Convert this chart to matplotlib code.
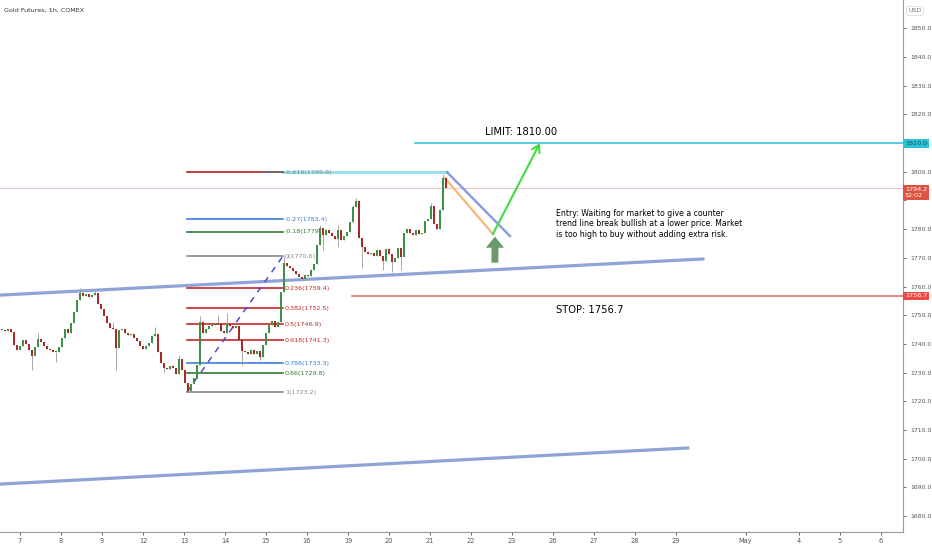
import matplotlib.pyplot as plt
from matplotlib import transforms

# hourly-ish candles, Gold Futures 1h (closes)
closes = [1744.8, 1744.5, 1745.1, 1744.1, 1739.6, 1737.8, 1739.2, 1741.3, 1739.9, 1737.8,
          1735.7, 1738.9, 1741.7, 1740.6, 1739.2, 1738.2, 1737.8, 1737.1, 1737.1, 1738.9,
          1742.0, 1745.1, 1743.8, 1747.2, 1751.1, 1755.3, 1757.7, 1756.7, 1757.4, 1756.3,
          1757.0, 1757.7, 1753.9, 1752.1, 1749.7, 1747.2, 1745.5, 1745.1, 1738.5, 1744.8,
          1745.1, 1743.8, 1743.1, 1743.4, 1742.0, 1741.0, 1739.2, 1738.2, 1739.2, 1740.3,
          1742.7, 1743.4, 1737.1, 1733.3, 1731.6, 1731.2, 1732.3, 1731.6, 1729.5, 1734.7,
          1730.9, 1726.3, 1723.5, 1726.0, 1728.1, 1732.6, 1747.6, 1743.8, 1745.1, 1746.2,
          1746.5, 1747.2, 1746.9, 1744.5, 1743.8, 1746.9, 1746.2, 1745.5, 1746.2, 1741.3,
          1737.5, 1737.1, 1736.4, 1737.8, 1736.4, 1737.5, 1735.4, 1739.6, 1743.8, 1746.5,
          1747.9, 1745.9, 1747.6, 1758.1, 1768.2, 1767.1, 1766.4, 1765.4, 1764.3, 1763.3,
          1762.6, 1764.0, 1763.6, 1765.7, 1767.8, 1774.4, 1780.4, 1777.9, 1779.7, 1778.6,
          1777.6, 1776.5, 1779.7, 1776.2, 1777.6, 1779.0, 1782.5, 1787.7, 1789.8, 1776.9,
          1773.8, 1772.0, 1771.3, 1771.7, 1770.6, 1772.7, 1770.6, 1768.9, 1773.1, 1771.3,
          1768.5, 1769.9, 1773.4, 1770.3, 1778.6, 1780.0, 1778.6, 1777.9, 1779.7, 1778.3,
          1778.6, 1782.8, 1783.5, 1788.0, 1781.8, 1780.0, 1786.7, 1797.8, 1794.2]
first_open = 1744.8
high_wicks = {12: 1743.8, 26: 1759.5, 31: 1758.8, 37: 1747.6, 51: 1745.9, 59: 1736.1,
              66: 1749.7, 72: 1750.0, 75: 1750.7, 94: 1770.6, 106: 1781.5, 112: 1781.4,
              117: 1788.5, 118: 1790.8, 143: 1789.1, 147: 1799.2}
low_wicks = {10: 1730.9, 18: 1733.7, 38: 1730.9, 54: 1729.8, 62: 1723.2, 80: 1732.6,
             86: 1734.3, 93: 1746.9, 107: 1772.7, 112: 1773.8, 120: 1766.4, 127: 1765.7,
             130: 1765.0, 133: 1765.7}

day_ticks = [0, 1, 2, 3, 4, 5, 6, 7, 8, 9, 10, 11, 12, 13, 14, 15, 16, 17.7, 19, 20, 21]
day_labels = ['7', '8', '9', '12', '13', '14', '15', '16', '19', '20', '21', '22', '23',
              '26', '27', '28', '29', 'May', '4', '5', '6']
price_ticks = list(range(1680, 1851, 10))
hidden_ticks = [1790, 1810]  # covered by the price boxes

fib_ratios = [-0.618, -0.27, -0.18, 0, 0.236, 0.382, 0.5, 0.618, 0.786, 0.86, 1]
fib_prices = [1799.9, 1783.4, 1779.1, 1770.6, 1759.4, 1752.5, 1746.9, 1741.3, 1733.3, 1729.8, 1723.2]
fib_colors = ['#b71c1c', '#3a7fd5', '#2e7d32', '#8a8a8a', '#c62828', '#c62828', '#c62828',
              '#c62828', '#3a7fd5', '#2e7d32', '#8a8a8a']
fib_label_colors = ['#8a8a8a', '#3a7fd5', '#2e7d32', '#8a8a8a', '#c62828', '#c62828', '#c62828',
                    '#c62828', '#3a7fd5', '#2e7d32', '#8a8a8a']

limit_price = 1810.0
stop_price = 1756.7
last_price = 1794.2

fig = plt.figure(figsize=(9.32, 5.5), dpi=100)
ax = fig.add_axes([0, 18 / 550, 903 / 932, 532 / 550])
ax.set_xlim(-0.488, 21.54)
ax.set_ylim(1674.4, 1859.9)

# candles
x0, step = -18 / 41, 3 / 41
opens = [first_open] + closes[:-1]
for i, (o, c) in enumerate(zip(opens, closes)):
    x = x0 + i * step
    hi = high_wicks.get(i, max(o, c))
    lo = low_wicks.get(i, min(o, c))
    col = '#3f8f45' if c >= o else '#a82a26'
    ax.vlines(x, lo, hi, color='#9a9a9a', lw=0.6, zorder=4)
    h = max(abs(c - o), 0.35)
    ax.bar(x, h, bottom=min(o, c), width=0.048, color=col, lw=0, zorder=5)

# current price line
ax.axhline(last_price, color='#f3b5b5', lw=0.6, zorder=1)

# wedge lines
ax.plot([-0.488, 16.66], [1757.0, 1769.6], color='#8ea4d6', lw=2.3, zorder=3)
ax.plot([-0.488, 16.29], [1691.1, 1703.7], color='#8ea4d6', lw=2.3, zorder=3)

# fib retracement
fx0, fx1 = 167 / 41, 263 / 41
for r, p, col, lcol in zip(fib_ratios, fib_prices, fib_colors, fib_label_colors):
    ax.plot([fx0, fx1], [p, p], color=col, lw=1.2, zorder=3)
    ax.text(265 / 41, p, f"{r:g}({p})", color=lcol, fontsize=4.6, va='center', ha='left',
            zorder=3)
ax.plot([243 / 41, fx1], [fib_prices[0], fib_prices[0]], color='#6a6a6a', lw=1.2, zorder=3)
ax.plot([fx0, fx1], [fib_prices[-1], fib_prices[3]], color='#4a4adf', lw=1.1,
        ls=(0, (4, 4)), zorder=3)

# cyan top line and projection
ax.plot([fx1, 427 / 41], [1799.9, 1799.9], color='#7fdbe6', lw=2, alpha=0.85, zorder=2)
ax.plot([427 / 41, 490 / 41], [1799.9, 1777.6], color='#8c9ee0', lw=1.8, zorder=3)
ax.plot([425 / 41, 473 / 41], [1797.8, 1778.3], color='#f6b872', lw=1.6, zorder=3)
ax.annotate('', xy=(520 / 41, 1810.0), xytext=(473 / 41, 1778.3),
            arrowprops=dict(arrowstyle='->,head_length=0.5,head_width=0.3',
                            color='#48dc48', lw=1.6, shrinkA=0, shrinkB=0), zorder=4)
ax.annotate('', xy=(475 / 41, 1777.4), xytext=(475 / 41, 1768.3),
            arrowprops=dict(arrowstyle='simple,head_length=0.8,head_width=1.3,tail_width=0.5',
                            color='#6a9a6a', lw=0, mutation_scale=10, shrinkA=0, shrinkB=0))

# limit / stop
ax.plot([395 / 41, 22], [limit_price, limit_price], color='#3cc4d6', lw=1.2, zorder=3,
        clip_on=False)
ax.plot([332 / 41, 22], [stop_price, stop_price], color='#e8766b', lw=1.2, zorder=3,
        clip_on=False)
ax.text(501 / 41, 1813.8, 'LIMIT: 1810.00', fontsize=7.2, ha='center', va='center')
ax.text(570 / 41, 1751.8, 'STOP: 1756.7', fontsize=7.2, ha='center', va='center')
ax.text(536 / 41, 1781.8,
        'Entry: Waiting for market to give a counter\n'
        'trend line break bullish at a lower price. Market\n'
        'is too high to buy without adding extra risk.',
        fontsize=5.6, ha='left', va='center', linespacing=1.25)

# axes styling
for s in ['top', 'left']:
    ax.spines[s].set_visible(False)
for s in ['right', 'bottom']:
    ax.spines[s].set_color('#9a9a9a')
    ax.spines[s].set_linewidth(0.8)
ax.yaxis.tick_right()
ax.set_yticks(price_ticks)
ax.set_yticklabels(['' if v in hidden_ticks else f"{v:.1f}" for v in price_ticks])
ax.set_xticks(day_ticks)
ax.set_xticklabels(day_labels)
ax.tick_params(labelsize=4.8, colors='#555555', length=2, width=0.6, pad=2)
ax.tick_params(axis='y', labelsize=4.4, pad=3)

# price boxes on the right scale
tr = transforms.blended_transform_factory(ax.transAxes, ax.transData)
ax.text(1.002, limit_price, '1810.0', transform=tr, fontsize=4.6, color='#1d4f57',
        ha='left', va='center', zorder=6,
        bbox=dict(boxstyle='square,pad=0.3', fc='#29c2d8', ec='none'))
ax.text(1.002, last_price - 1.5, '1794.2\n52:02', transform=tr, fontsize=4.6, color='white',
        ha='left', va='center', zorder=6, linespacing=1.25,
        bbox=dict(boxstyle='square,pad=0.3', fc='#dd5240', ec='none'))
ax.text(1.002, stop_price, '1756.7', transform=tr, fontsize=4.6, color='white',
        ha='left', va='center', zorder=6,
        bbox=dict(boxstyle='square,pad=0.3', fc='#ef4b42', ec='none'))

fig.text(4 / 932, 1 - 10 / 550, 'Gold Futures, 1h, COMEX', fontsize=4.6, color='#333333',
         ha='left', va='center')
fig.text(915 / 932, 1 - 11 / 550, 'USD', fontsize=4.5, color='#777777', ha='center',
         va='center', bbox=dict(boxstyle='round,pad=0.3', fc='white', ec='#dddddd', lw=0.6))

fig.savefig('out.png', dpi=100)
